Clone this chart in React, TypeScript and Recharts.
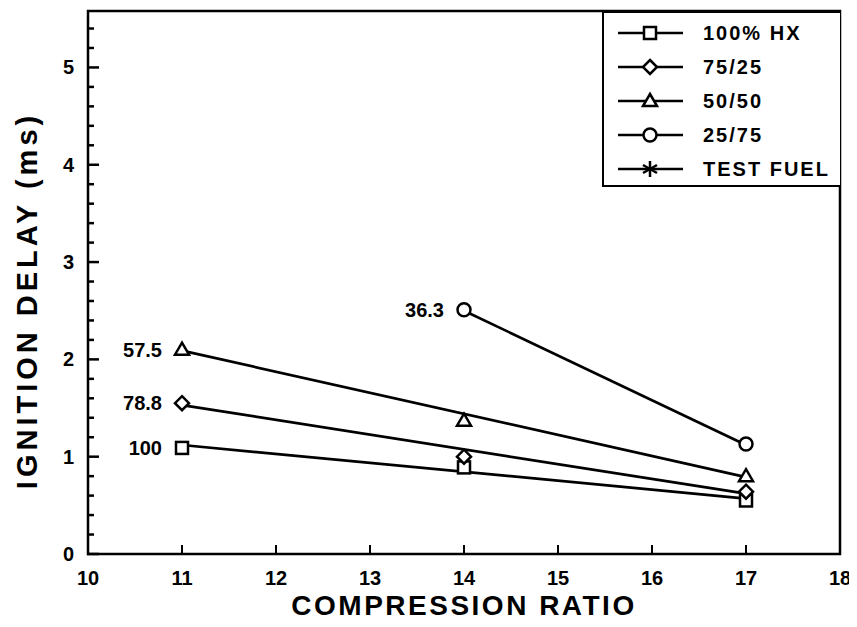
import { ReactElement } from 'react'
import { ComposedChart, XAxis, YAxis, Line, Scatter, ReferenceArea } from 'recharts'

interface Pt {
    x: number
    y: number
}

// measured points
const hx100: Pt[] = [
    { x: 11, y: 1.09 },
    { x: 14, y: 0.89 },
    { x: 17, y: 0.55 },
]
const blend7525: Pt[] = [
    { x: 11, y: 1.55 },
    { x: 14, y: 1.0 },
    { x: 17, y: 0.64 },
]
const blend5050: Pt[] = [
    { x: 11, y: 2.1 },
    { x: 14, y: 1.37 },
    { x: 17, y: 0.8 },
]
const blend2575: Pt[] = [
    { x: 14, y: 2.51 },
    { x: 17, y: 1.13 },
]

// fitted lines (end points)
const hx100Fit: Pt[] = [
    { x: 11, y: 1.12 },
    { x: 17, y: 0.57 },
]
const blend7525Fit: Pt[] = [
    { x: 11, y: 1.53 },
    { x: 17, y: 0.62 },
]
const blend5050Fit: Pt[] = [
    { x: 11, y: 2.09 },
    { x: 17, y: 0.79 },
]
const blend2575Fit: Pt[] = [
    { x: 14, y: 2.5 },
    { x: 17, y: 1.12 },
]

const annotations = [
    { x: 11, y: 2.1, label: '57.5' },
    { x: 11, y: 1.55, label: '78.8' },
    { x: 11, y: 1.09, label: '100' },
    { x: 14, y: 2.51, label: '36.3' },
]

const legendNames = ['100% HX', '75/25', '50/50', '25/75', 'TEST FUEL']
const legendShapes = ['square', 'diamond', 'triangle', 'circle', 'star']

const xTicks = [10, 11, 12, 13, 14, 15, 16, 17, 18]
const yTicks = [0, 1, 2, 3, 4, 5]
const yMinorTicks = [
    0.2, 0.4, 0.6, 0.8, 1.2, 1.4, 1.6, 1.8, 2.2, 2.4, 2.6, 2.8, 3.2, 3.4, 3.6, 3.8, 4.2, 4.4, 4.6, 4.8, 5.2, 5.4,
]

const X_MIN = 10
const X_MAX = 18
const Y_MIN = 0
const Y_MAX = 5.58

const FONT = '"Liberation Sans", Arial, sans-serif'
const PLOT_LEFT = 80
const PLOT_BOTTOM = 546

// tick marks placed through the scales (drawn pointing into the plot)
const yMajorMarks = yTicks.map((v) => ({ x: X_MIN, y: v }))
const yMinorMarks = yMinorTicks.map((v) => ({ x: X_MIN, y: v }))
const xMarks = xTicks.map((v) => ({ x: v, y: Y_MIN }))

const Marker = ({ type, cx, cy }: { type: string; cx: number; cy: number }): ReactElement | null => {
    const common = { fill: '#fff', stroke: '#000', strokeWidth: 2.5 }
    switch (type) {
        case 'square':
            return <rect x={cx - 6} y={cy - 6} width={12} height={12} {...common} />
        case 'diamond':
            return <polygon points={`${cx},${cy - 7} ${cx + 7},${cy} ${cx},${cy + 7} ${cx - 7},${cy}`} {...common} />
        case 'triangle':
            return <polygon points={`${cx},${cy - 7} ${cx + 7},${cy + 5} ${cx - 7},${cy + 5}`} {...common} />
        case 'circle':
            return <circle cx={cx} cy={cy} r={6.5} {...common} />
        case 'star':
            return (
                <g stroke="#000" strokeWidth={2.5}>
                    <line x1={cx} y1={cy - 8} x2={cx} y2={cy + 8} />
                    <line x1={cx - 7} y1={cy - 4} x2={cx + 7} y2={cy + 4} />
                    <line x1={cx - 7} y1={cy + 4} x2={cx + 7} y2={cy - 4} />
                </g>
            )
        default:
            return null
    }
}

const XTick = (props: any): ReactElement => {
    const { payload } = props
    return (
        <text x={payload.coordinate} y={PLOT_BOTTOM + 24} textAnchor="middle" dominantBaseline="central" fontFamily={FONT} fontWeight="bold" fontSize={20} fill="#000">
            {payload.value}
        </text>
    )
}

const YTick = (props: any): ReactElement => {
    const { payload } = props
    return (
        <text x={PLOT_LEFT - 14} y={payload.coordinate} textAnchor="end" dominantBaseline="central" fontFamily={FONT} fontWeight="bold" fontSize={20} fill="#000">
            {payload.value}
        </text>
    )
}

const YTitle = (props: any): ReactElement => {
    const { viewBox } = props
    const cx = viewBox.x - 1
    const cy = viewBox.y + viewBox.height / 2 + 18
    return (
        <text
            x={cx}
            y={cy}
            transform={`rotate(-90 ${cx} ${cy})`}
            textAnchor="middle"
            dominantBaseline="central"
            fontFamily={FONT}
            fontWeight="bold"
            fontSize={29}
            letterSpacing={4}
            fill="#000"
        >
            IGNITION DELAY (ms)
        </text>
    )
}

const LegendBox = (): ReactElement => (
    <div
        style={{
            position: 'absolute',
            left: 594,
            top: 3,
            width: 238,
            height: 176,
            border: '2.5px solid #000',
            borderRight: 'none',
            boxSizing: 'border-box',
            background: '#fff',
        }}
    >
        <svg width={236} height={172} style={{ display: 'block' }}>
            {legendNames.map((name, i) => {
                const cy = 20 + i * 34
                return (
                    <g key={name}>
                        <line x1={14} y1={cy} x2={79} y2={cy} stroke="#000" strokeWidth={2.5} />
                        <Marker type={legendShapes[i]} cx={46} cy={cy} />
                        <text x={99} y={cy} dominantBaseline="central" fontFamily={FONT} fontWeight="bold" fontSize={20} letterSpacing={2} fill="#000">
                            {name}
                        </text>
                    </g>
                )
            })}
        </svg>
    </div>
)

const shapeOf = (type: string) => (p: any) => <Marker type={type} cx={p.cx} cy={p.cy} />

const hTick = (len: number) => (p: any) => (
    <line x1={p.cx - 1} y1={p.cy} x2={p.cx + len} y2={p.cy} stroke="#000" strokeWidth={2.5} />
)
const vTick = (p: any) => <line x1={p.cx} y1={p.cy + 1} x2={p.cx} y2={p.cy - 9} stroke="#000" strokeWidth={2} />

export default function App(): ReactElement {
    return (
        <div style={{ position: 'relative', width: 849, height: 619 }}>
            <ComposedChart width={849} height={619} margin={{ top: 3, right: 17, bottom: 13, left: 20 }}>
                <XAxis
                    type="number"
                    dataKey="x"
                    domain={[X_MIN, X_MAX]}
                    ticks={xTicks}
                    axisLine={false}
                    tickLine={false}
                    tick={XTick}
                    height={60}
                    interval={0}
                    label={{
                        value: 'COMPRESSION RATIO',
                        position: 'insideBottom',
                        offset: -1,
                        style: { fontFamily: FONT, fontWeight: 'bold', fontSize: 28, letterSpacing: 2.5, fill: '#000' },
                    }}
                />
                <YAxis
                    type="number"
                    dataKey="y"
                    domain={[Y_MIN, Y_MAX]}
                    ticks={yTicks}
                    axisLine={false}
                    tickLine={false}
                    tick={YTick}
                    width={60}
                    interval={0}
                    label={<YTitle />}
                />
                <ReferenceArea x1={X_MIN} x2={X_MAX} y1={Y_MIN} y2={Y_MAX} fill="none" stroke="#000" strokeWidth={2.5} ifOverflow="visible" />
                <Scatter data={yMajorMarks} shape={hTick(11)} isAnimationActive={false} />
                <Scatter data={yMinorMarks} shape={hTick(6)} isAnimationActive={false} />
                <Scatter data={xMarks} shape={vTick} isAnimationActive={false} />
                <Line data={hx100Fit} dataKey="y" stroke="#000" strokeWidth={2.7} dot={false} isAnimationActive={false} />
                <Line data={blend7525Fit} dataKey="y" stroke="#000" strokeWidth={2.7} dot={false} isAnimationActive={false} />
                <Line data={blend5050Fit} dataKey="y" stroke="#000" strokeWidth={2.7} dot={false} isAnimationActive={false} />
                <Line data={blend2575Fit} dataKey="y" stroke="#000" strokeWidth={2.7} dot={false} isAnimationActive={false} />
                <Scatter data={hx100} shape={shapeOf('square')} isAnimationActive={false} />
                <Scatter data={blend7525} shape={shapeOf('diamond')} isAnimationActive={false} />
                <Scatter data={blend5050} shape={shapeOf('triangle')} isAnimationActive={false} />
                <Scatter data={blend2575} shape={shapeOf('circle')} isAnimationActive={false} />
                <Scatter
                    data={annotations}
                    isAnimationActive={false}
                    shape={(p: any) => (
                        <text x={p.cx - 20} y={p.cy} textAnchor="end" dominantBaseline="central" fontFamily={FONT} fontWeight="bold" fontSize={20} fill="#000">
                            {p.payload.label}
                        </text>
                    )}
                />
            </ComposedChart>
            <LegendBox />
        </div>
    )
}
